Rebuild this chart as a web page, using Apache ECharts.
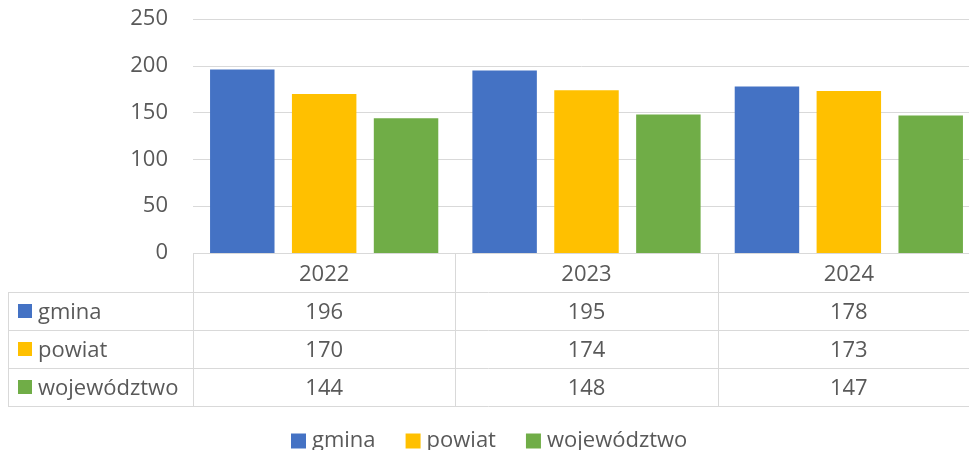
<!DOCTYPE html>
<html>
<head>
<meta charset="utf-8">
<script src="https://cdn.jsdelivr.net/npm/echarts@6/dist/echarts.min.js"></script>
<style>
  html, body { margin: 0; padding: 0; background: #fff; }
  #chart { width: 969px; height: 450px; }
</style>
</head>
<body>
<div id="chart"></div>
<script>
// dane
const years = ['2022', '2023', '2024'];
const gmina = [196, 195, 178];
const powiat = [170, 174, 173];
const wojewodztwo = [144, 148, 147];
const seriesNames = ['gmina', 'powiat', 'województwo'];
const seriesColors = ['#4472C4', '#FFC000', '#70AD47'];
const yMax = 250;
const yStep = 50;

const FONT = '"Open Sans", "Liberation Sans", sans-serif';
const FSIZE = 22;
const TEXT = '#595959';
const LINE = '#d9d9d9';

const chart = echarts.init(document.getElementById('chart'));
const seriesData = [gmina, powiat, wojewodztwo];

chart.setOption({
  animation: false,
  grid: { left: 193, top: 19, width: 787, height: 234, outerBoundsMode: 'none' },
  legend: {
    data: seriesNames,
    left: 286,
    top: 425,
    icon: 'rect',
    itemWidth: 15,
    itemHeight: 15,
    itemGap: 30,
    textStyle: { color: TEXT, fontSize: FSIZE, fontFamily: FONT, padding: [0, 0, 0, 1] }
  },
  xAxis: {
    type: 'category',
    data: years,
    axisLine: { show: false },
    axisTick: { show: false },
    axisLabel: { show: false }
  },
  yAxis: {
    type: 'value',
    min: 0,
    max: yMax,
    interval: yStep,
    axisLine: { show: false },
    axisTick: { show: false },
    axisLabel: { color: TEXT, fontSize: FSIZE, fontFamily: FONT, margin: 25 },
    splitLine: { lineStyle: { color: LINE, width: 1 } }
  },
  series: seriesNames.map((name, i) => ({
    name: name,
    type: 'bar',
    data: seriesData[i],
    barGap: '27%',
    barCategoryGap: '13%',
    itemStyle: { color: seriesColors[i] }
  }))
});

// tabela danych pod wykresem
const c0 = chart.convertToPixel({ xAxisIndex: 0 }, years[0]);
const c1 = chart.convertToPixel({ xAxisIndex: 0 }, years[1]);
const colW = c1 - c0;
const plotLeft = c0 - colW / 2;
const tableTop = Math.round(chart.convertToPixel({ yAxisIndex: 0 }, 0));
const headerH = 39;
const rowH = 38;
const tableLeft = 8;
const tableRight = 969;
const tableBottom = tableTop + headerH + rowH * seriesNames.length;

const g = [];
function hline(x1, x2, y) {
  g.push({ type: 'line', shape: { x1: x1, y1: y + 0.5, x2: x2, y2: y + 0.5 }, style: { stroke: LINE, lineWidth: 1 }, silent: true });
}
function vline(x, y1, y2) {
  g.push({ type: 'line', shape: { x1: x + 0.5, y1: y1, x2: x + 0.5, y2: y2 }, style: { stroke: LINE, lineWidth: 1 }, silent: true });
}
function text(x, y, str, align) {
  g.push({ type: 'text', x: x, y: y, silent: true,
    style: { text: str, fill: TEXT, font: FSIZE + 'px ' + FONT, align: align, verticalAlign: 'middle' } });
}

hline(plotLeft, tableRight, tableTop);
for (let r = 0; r <= seriesNames.length; r++) {
  hline(tableLeft, tableRight, tableTop + headerH + rowH * r);
}
vline(Math.round(plotLeft), tableTop, tableBottom);
vline(tableLeft, tableTop + headerH, tableBottom);
for (let k = 1; k < years.length; k++) {
  vline(Math.round(plotLeft + colW * k), tableTop, tableBottom);
}

years.forEach((y, k) => {
  const cx = chart.convertToPixel({ xAxisIndex: 0 }, y);
  text(cx, tableTop + headerH / 2 + 2, y, 'center');
  seriesData.forEach((arr, r) => {
    text(cx, tableTop + headerH + rowH * r + rowH / 2 + 2, String(arr[k]), 'center');
  });
});

seriesNames.forEach((name, r) => {
  const cy = tableTop + headerH + rowH * r + rowH / 2;
  g.push({ type: 'rect', shape: { x: 18, y: cy - 7, width: 14, height: 14 }, style: { fill: seriesColors[r] }, silent: true });
  text(38, cy + 2, name, 'left');
});

chart.setOption({ graphic: g });
</script>
</body>
</html>
